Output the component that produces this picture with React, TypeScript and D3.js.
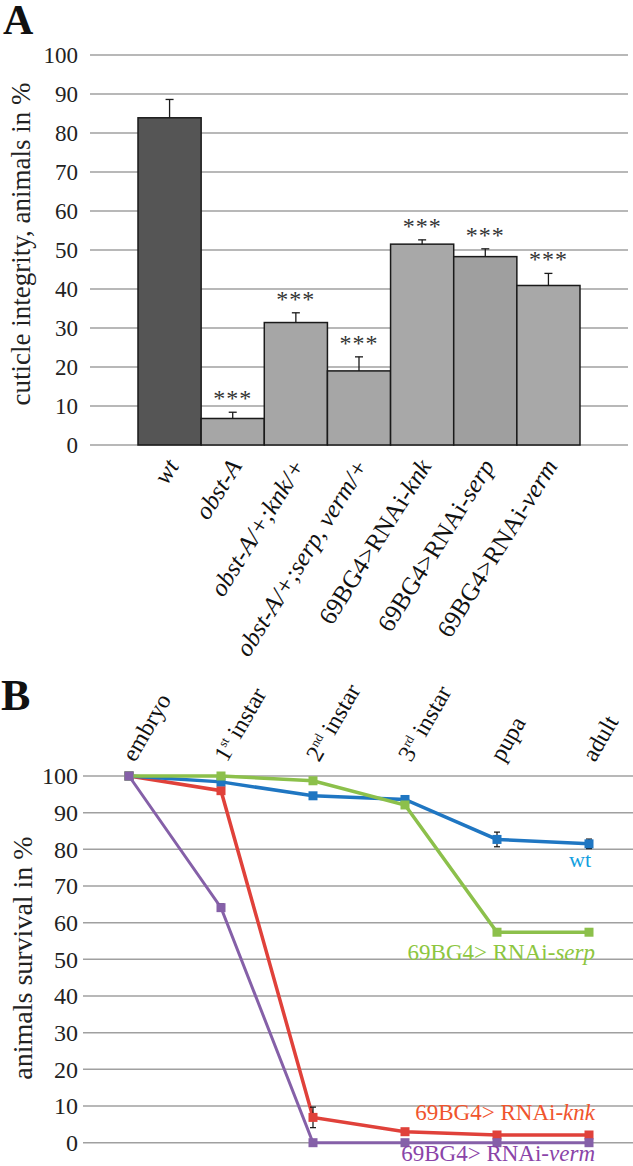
import * as d3 from "d3";

// ---- panel A data ----
const barKeys = ["wt", "obstA", "obstKnk", "obstSerpVerm", "rnaiKnk", "rnaiSerp", "rnaiVerm"];
// label pieces: [text, italic]
const barLabels: [string, boolean][][] = [
  [["wt", true]],
  [["obst-A", true]],
  [["obst-A/+;knk/+", true]],
  [["obst-A/+;serp, verm/+", true]],
  [["69BG4>RNAi-", false], ["knk", true]],
  [["69BG4>RNAi-", false], ["serp", true]],
  [["69BG4>RNAi-", false], ["verm", true]],
];
const barValues = [83.9, 6.8, 31.4, 19.0, 51.5, 48.3, 40.9];
const barErrors = [4.7, 1.6, 2.5, 3.6, 1.1, 2.0, 3.1];
const barStars = ["", "***", "***", "***", "***", "***", "***"];
const barFills = ["#555555", "#a6a6a6", "#a6a6a6", "#a6a6a6", "#a8a8a8", "#9f9f9f", "#a8a8a8"];
const ticksA = [0, 10, 20, 30, 40, 50, 60, 70, 80, 90, 100];

// ---- panel B data ----
const stages: [string, string, string][] = [
  ["embryo", "", ""],
  ["1", "st", " instar"],
  ["2", "nd", " instar"],
  ["3", "rd", " instar"],
  ["pupa", "", ""],
  ["adult", "", ""],
];
const wtSurvival = [100, 98.4, 94.6, 93.6, 82.7, 81.5];
const wtErr = [0, 0.6, 0.8, 1.0, 2.0, 1.3];
const serpSurvival = [100, 100, 98.7, 92.1, 57.4, 57.4];
const serpErr = [0, 0, 0, 0, 0, 0];
const knkSurvival = [100, 96.0, 6.9, 3.0, 2.1, 2.1];
const knkErr = [0, 0.6, 2.8, 0, 0, 0];
const vermSurvival = [100, 64.1, 0, 0, 0, 0];
const vermErr = [0, 1.0, 0, 0, 0, 0];
const ticksB = [0, 10, 20, 30, 40, 50, 60, 70, 80, 90, 100];

const SERIF = "'Liberation Serif', 'Times New Roman', serif";

export default function App() {
  const W = 633;
  const H = 1166;

  // panel A scales
  const xA = d3.scaleBand<string>().domain(barKeys).range([138, 580]).padding(0);
  const yA = d3.scaleLinear().domain([0, 100]).range([445, 55]);

  // panel B scales
  const stageIdx = stages.map((_, i) => String(i));
  const xBand = d3.scaleBand<string>().domain(stageIdx).range([83, 635]);
  const xB = (i: number) => (xBand(String(i)) ?? 0) + xBand.bandwidth() / 2;
  const yB = d3.scaleLinear().domain([0, 100]).range([1142.7, 776]);

  const series = [
    { key: "knk", values: knkSurvival, err: knkErr, color: "#e0413a", width: 3.5 },
    { key: "wt", values: wtSurvival, err: wtErr, color: "#1f76c2", width: 3.5 },
    { key: "serp", values: serpSurvival, err: serpErr, color: "#8cc04b", width: 3.5 },
    { key: "verm", values: vermSurvival, err: vermErr, color: "#8560a8", width: 3 },
  ];
  const line = d3
    .line<number>()
    .x((_, i) => xB(i))
    .y((d) => yB(d));

  return (
    <svg
      width={W}
      height={H}
      style={{ position: "absolute", left: 0, top: 0, background: "#fff" }}
      fontFamily={SERIF}
    >
      <rect width={W} height={H} fill="#fff" />

      {/* ================= Panel A ================= */}
      <text x={3} y={34} fontSize={42} fontWeight="bold" fill="#111">A</text>

      {ticksA.map((t) => (
        <g key={"ga" + t}>
          <line x1={90} x2={628} y1={yA(t)} y2={yA(t)} stroke="#a0a0a0" strokeWidth={1.5} />
          <text x={78} y={yA(t)} dy="0.35em" textAnchor="end" fontSize={23} fill="#222">
            {t}
          </text>
        </g>
      ))}

      <text
        transform={`translate(30,244) rotate(-90)`}
        textAnchor="middle"
        fontSize={27}
        fill="#222"
      >
        cuticle integrity, animals in %
      </text>

      {barKeys.map((k, i) => {
        const x0 = xA(k) ?? 0;
        const bw = xA.bandwidth();
        const cx = x0 + bw / 2;
        const top = yA(barValues[i]);
        const eTop = yA(barValues[i] + barErrors[i]);
        return (
          <g key={k}>
            <rect
              x={x0}
              y={top}
              width={bw}
              height={yA(0) - top}
              fill={barFills[i]}
              stroke="#1a1a1a"
              strokeWidth={1.5}
            />
            <line x1={cx} x2={cx} y1={top} y2={eTop} stroke="#1a1a1a" strokeWidth={1.3} />
            <line x1={cx - 4} x2={cx + 4} y1={eTop} y2={eTop} stroke="#1a1a1a" strokeWidth={1.3} />
            {barStars[i] && (
              <text
                x={cx}
                y={eTop - 6}
                textAnchor="middle"
                fontSize={24}
                letterSpacing={1}
                fill="#333"
              >
                {barStars[i]}
              </text>
            )}
            <text
              transform={`translate(${cx + 10},${466}) rotate(-58)`}
              textAnchor="end"
              fontSize={25}
              fill="#111"
            >
              {barLabels[i].map(([s, it], j) => (
                <tspan key={j} fontStyle={it ? "italic" : "normal"}>
                  {s}
                </tspan>
              ))}
            </text>
          </g>
        );
      })}

      {/* ================= Panel B ================= */}
      <text x={1} y={710} fontSize={44} fontWeight="bold" fill="#111">B</text>

      {ticksB.map((t) => (
        <g key={"gb" + t}>
          <line x1={83} x2={633} y1={yB(t)} y2={yB(t)} stroke="#a0a0a0" strokeWidth={1.5} />
          <text x={78} y={yB(t)} dy="0.35em" textAnchor="end" fontSize={24} fill="#222">
            {t}
          </text>
        </g>
      ))}

      <text
        transform={`translate(32,958) rotate(-90)`}
        textAnchor="middle"
        fontSize={28}
        fill="#222"
      >
        animals survival in %
      </text>

      {stages.map(([a, sup, b], i) => (
        <text
          key={"st" + i}
          transform={`translate(${xB(i) + 6},${763}) rotate(-60)`}
          textAnchor="start"
          fontSize={24}
          fill="#111"
        >
          {a}
          {sup && (
            <tspan fontSize={13} dy={-9}>
              {sup}
            </tspan>
          )}
          {b && <tspan dy={sup ? 9 : 0}>{b}</tspan>}
        </text>
      ))}

      {series.map((s) => (
        <g key={s.key}>
          <path d={line(s.values) ?? ""} fill="none" stroke={s.color} strokeWidth={s.width} />
          {s.values.map((v, i) =>
            s.err[i] > 0 ? (
              <g key={"e" + i} stroke="#111" strokeWidth={1.2}>
                <line x1={xB(i)} x2={xB(i)} y1={yB(v + s.err[i])} y2={yB(v - s.err[i])} />
                <line x1={xB(i) - 3} x2={xB(i) + 3} y1={yB(v + s.err[i])} y2={yB(v + s.err[i])} />
                <line x1={xB(i) - 3} x2={xB(i) + 3} y1={yB(v - s.err[i])} y2={yB(v - s.err[i])} />
              </g>
            ) : null
          )}
          {s.values.map((v, i) => (
            <rect
              key={"m" + i}
              x={xB(i) - 4.5}
              y={yB(v) - 4.5}
              width={9}
              height={9}
              fill={s.color}
            />
          ))}
        </g>
      ))}

      <text x={580} y={867} textAnchor="middle" fontSize={22} fill="#12a0e0">wt</text>
      <text x={595} y={960} textAnchor="end" fontSize={23} fill="#8dc63f">
        69BG4&gt; RNAi-<tspan fontStyle="italic">serp</tspan>
      </text>
      <text x={595} y={1120} textAnchor="end" fontSize={23} fill="#f0552d">
        69BG4&gt; RNAi-<tspan fontStyle="italic">knk</tspan>
      </text>
      <text x={595} y={1161} textAnchor="end" fontSize={23} fill="#8a44a8">
        69BG4&gt; RNAi-<tspan fontStyle="italic">verm</tspan>
      </text>
    </svg>
  );
}
